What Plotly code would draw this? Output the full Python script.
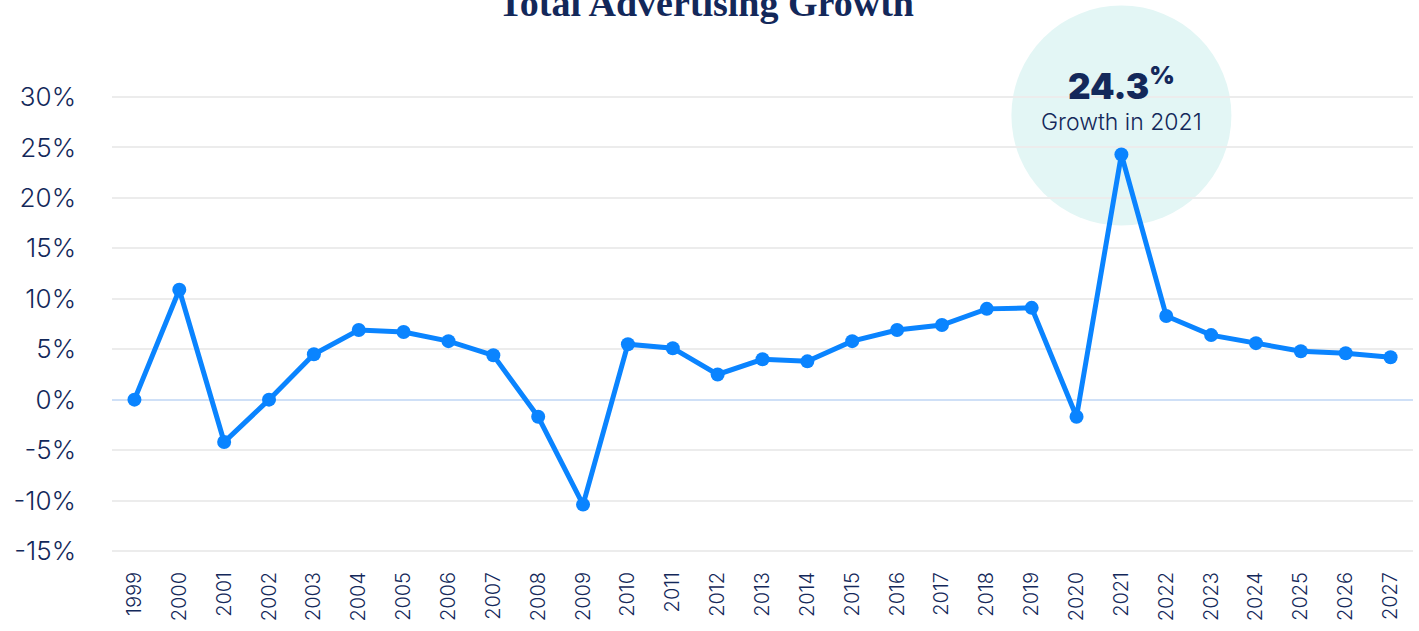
import plotly.graph_objects as go

years = [str(y) for y in range(1999, 2028)]
growth = [0.0, 10.9, -4.2, 0.0, 4.5, 6.9, 6.7, 5.8, 4.4, -1.7,
          -10.4, 5.5, 5.1, 2.5, 4.0, 3.8, 5.8, 6.9, 7.4, 9.0,
          9.1, -1.7, 24.3, 8.3, 6.4, 5.6, 4.8, 4.6, 4.2]
y_ticks = [-15, -10, -5, 0, 5, 10, 15, 20, 25, 30]
y_tick_labels = [f"{v}%" for v in y_ticks]
highlight_year = "2021"

NAVY = "#13285a"
BLUE = "#0a84ff"

xs = list(range(len(years)))
hi = years.index(highlight_year)
hi_val = growth[hi]

fig = go.Figure()
fig.add_trace(go.Scatter(
    x=xs, y=growth, mode="lines+markers",
    line=dict(color=BLUE, width=5),
    marker=dict(color=BLUE, size=14),
    cliponaxis=False, showlegend=False,
    customdata=years, hovertemplate="%{customdata}: %{y}%<extra></extra>",
))

# highlight bubble behind the peak
fig.add_shape(
    type="circle", xref="x", yref="y",
    xsizemode="pixel", ysizemode="pixel",
    xanchor=hi, yanchor=hi_val,
    x0=-110, x1=110, y0=-71, y1=149,
    fillcolor="#e3f6f5", line=dict(width=0), layer="below",
)

fig.add_annotation(
    x=hi, y=hi_val, xref="x", yref="y",
    text=f"{hi_val}<sup>%</sup>", showarrow=False,
    yshift=71, font=dict(family="Inter", size=35, color=NAVY, weight=900),
)
fig.add_annotation(
    x=hi, y=hi_val, xref="x", yref="y",
    text=f"Growth in {highlight_year}", showarrow=False,
    yshift=33, font=dict(family="Inter", size=23, color=NAVY, weight=300),
)

L, R, T, B = 112, 6, 5, 76
plot_w = 1419 - L - R
plot_h = 631 - T - B
fig.add_annotation(
    x=(706 - L) / plot_w, y=1 - (26 - T) / plot_h, xref="paper", yref="paper",
    text="<b>Total Advertising Growth</b>", showarrow=False,
    xanchor="center", yanchor="bottom",
    font=dict(family="Liberation Serif", size=38, color=NAVY),
)

px_per_pct = (551 - 97) / 45
fig.update_layout(
    width=1419, height=631,
    margin=dict(l=L, r=R, t=T, b=B),
    paper_bgcolor="white", plot_bgcolor="rgba(0,0,0,0)",
    xaxis=dict(
        range=[-0.5, len(years) - 0.5],
        tickmode="array", tickvals=xs, ticktext=years,
        tickangle=-90, showgrid=False, zeroline=False, showline=False,
        ticks="", ticklabelstandoff=12,
        tickfont=dict(family="Inter", size=20, color=NAVY, weight=300),
    ),
    yaxis=dict(
        range=[-15 - 4 / px_per_pct, 30 + 92 / px_per_pct],
        tickmode="array", tickvals=y_ticks, ticktext=y_tick_labels,
        showgrid=True, gridcolor="#ececec", gridwidth=2,
        zeroline=True, zerolinecolor="#cfe0f7", zerolinewidth=2,
        showline=False, ticks="", ticklabelstandoff=35,
        tickfont=dict(family="Inter", size=26, color=NAVY, weight=300),
    ),
)

fig.write_html("out.html", config={"displayModeBar": False},
               post_script="document.body.style.margin='0';")
